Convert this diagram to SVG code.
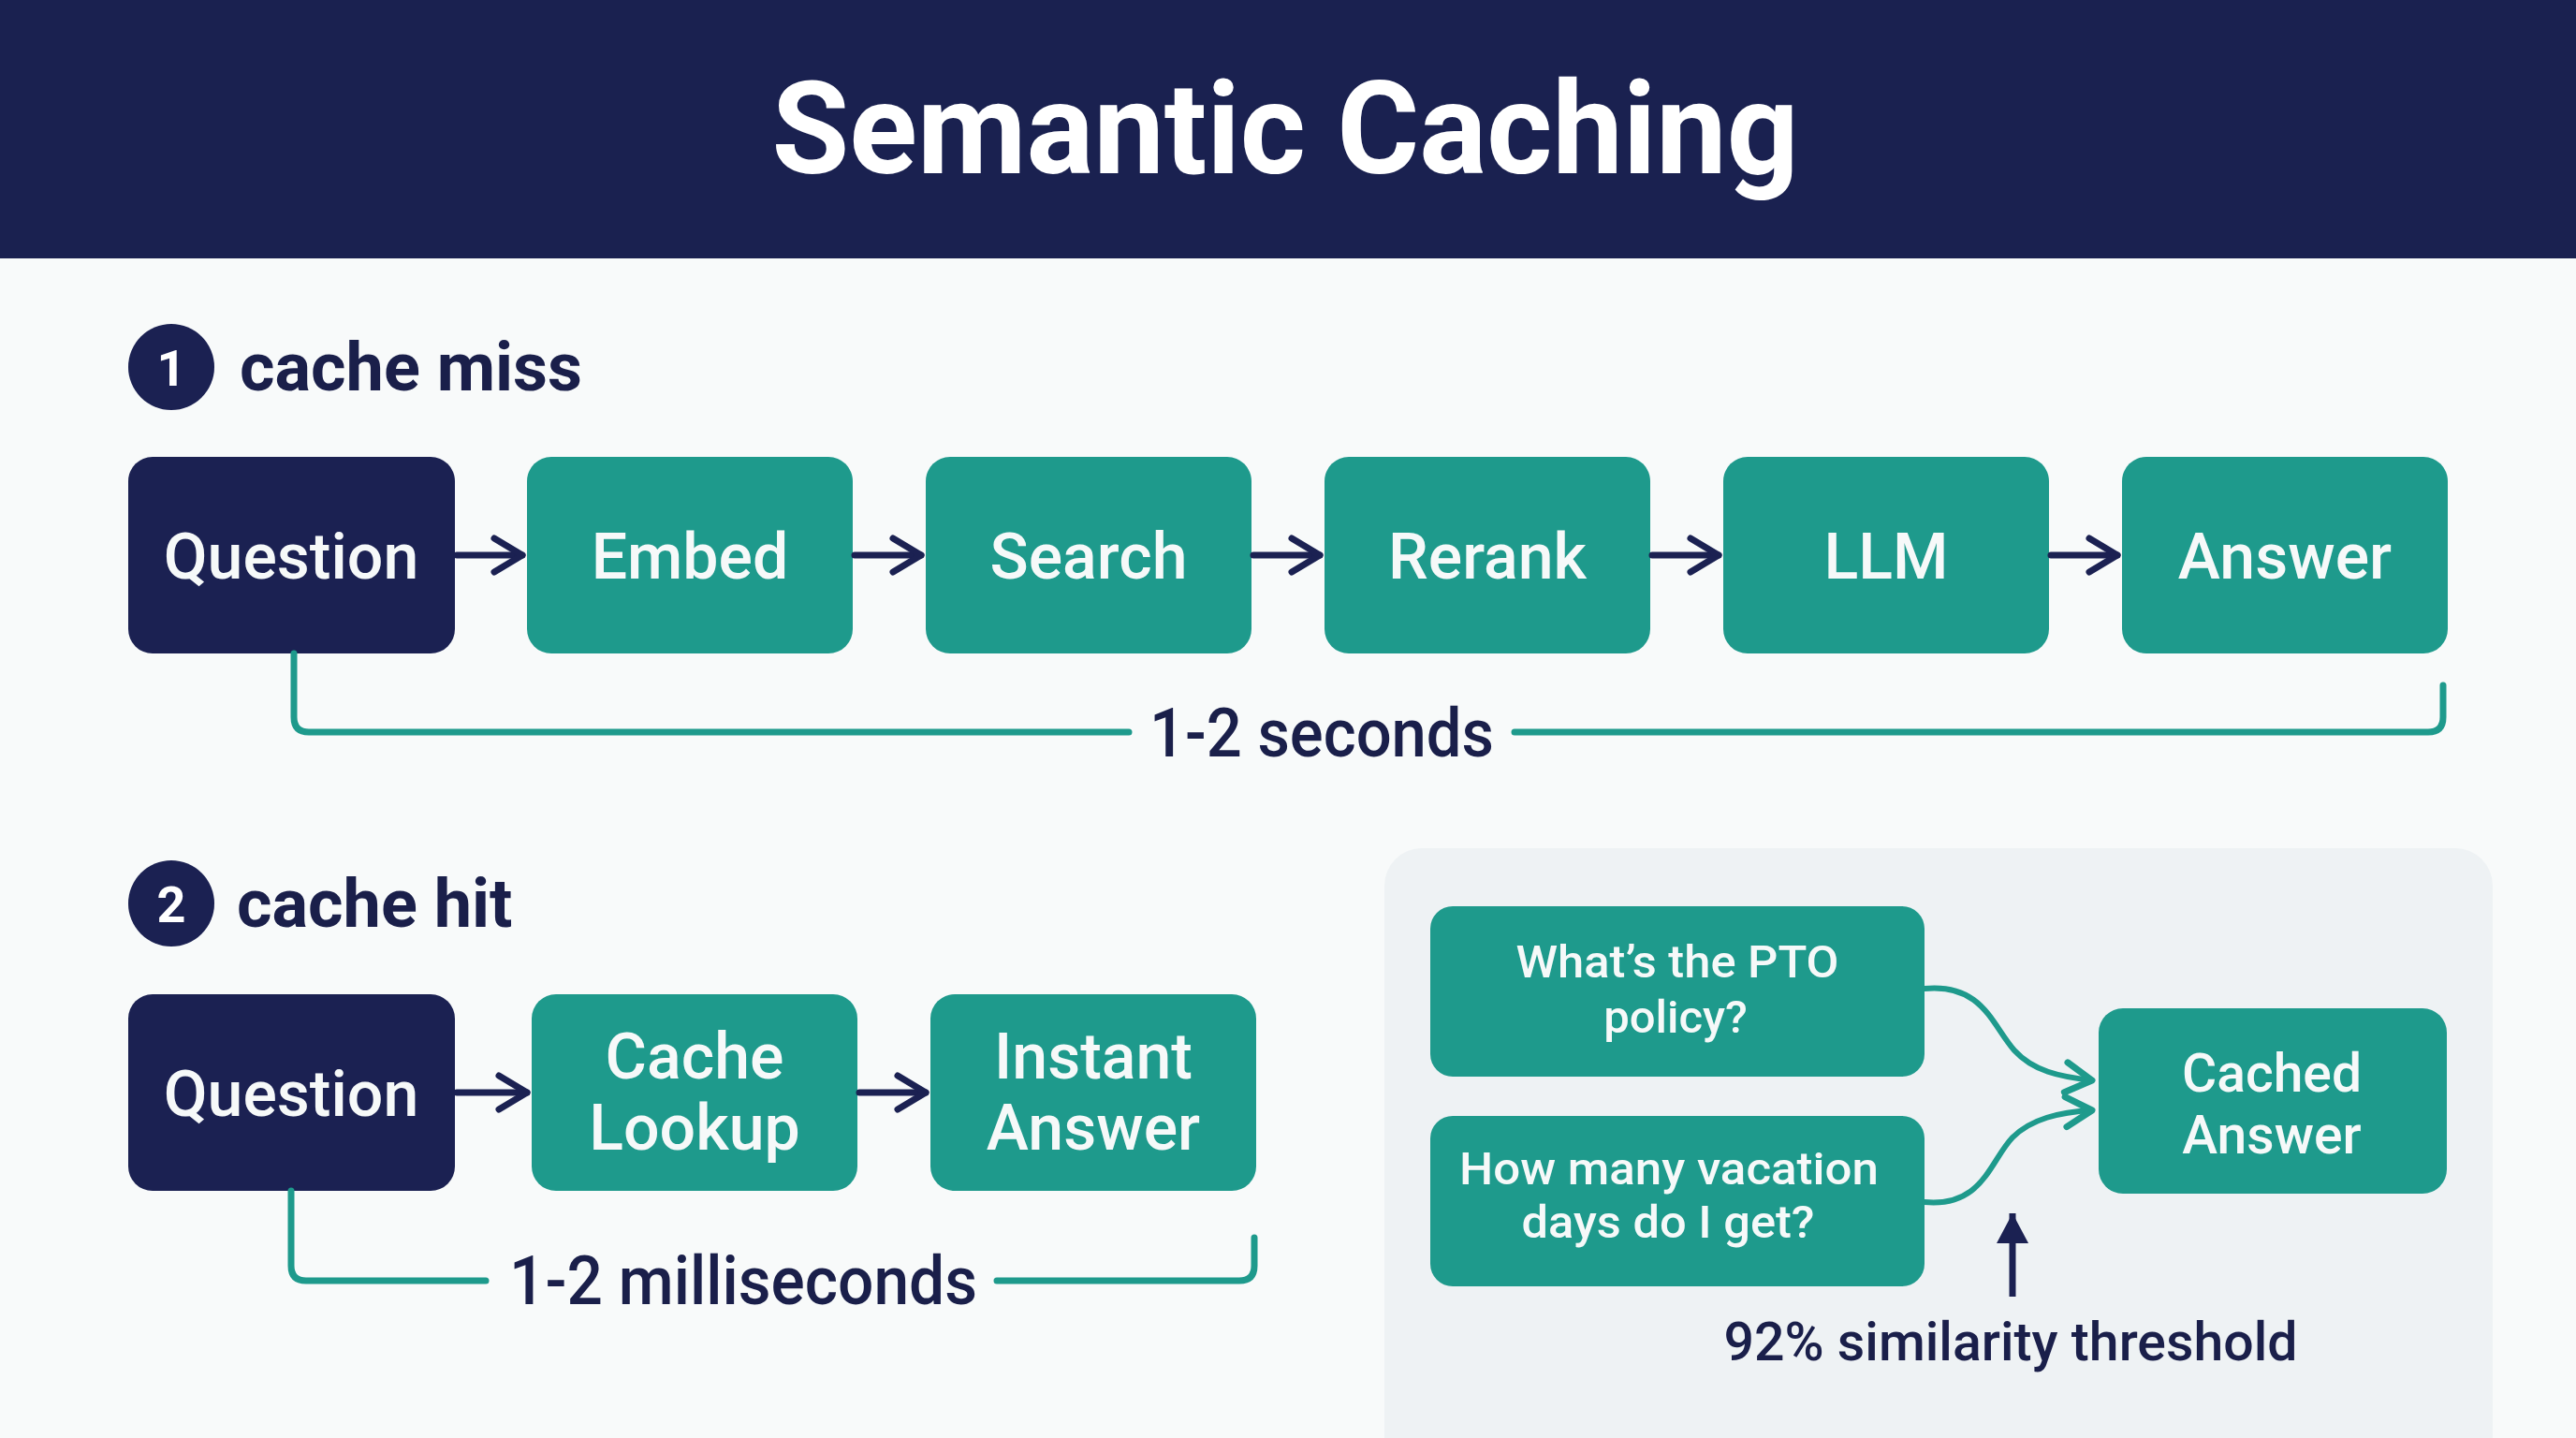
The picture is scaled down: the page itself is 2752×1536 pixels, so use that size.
<svg xmlns="http://www.w3.org/2000/svg" width="2752" height="1536" viewBox="0 0 2752 1536">
<defs>
<style>
.bg{fill:#f8fafa}
.hdr{fill:#1a2150}
.navy{fill:#1b2152}
.teal{fill:#1e9a8c}
.lbl{font-family:Roboto,"Noto Sans",sans-serif;font-weight:500;fill:#f6f9f9;text-anchor:middle}
.big{font-size:68px}
.sm{font-size:49px}
.md{font-size:57px}
.sec{font-family:Roboto,"Noto Sans",sans-serif;font-weight:700;font-size:72px;fill:#1a1f4a}
.num{font-family:Roboto,"Noto Sans",sans-serif;font-weight:700;font-size:54px;fill:#ffffff;text-anchor:middle}
.dur{font-family:Roboto,"Noto Sans",sans-serif;font-weight:500;fill:#1a1f4a;text-anchor:middle}
.ar{fill:none;stroke:#1b2152;stroke-width:7;stroke-linecap:round}
.br{fill:none;stroke:#1e9a8c;stroke-width:7;stroke-linecap:round;stroke-linejoin:round}
.cv{fill:none;stroke:#1e9a8c;stroke-width:6;stroke-linecap:round}
</style>
<marker id="chevN" markerUnits="userSpaceOnUse" viewBox="0 0 44 44" refX="38" refY="22" markerWidth="44" markerHeight="44" orient="auto">
<path d="M8,4 L38,22 L8,40" fill="none" stroke="#1b2152" stroke-width="7" stroke-linecap="round" stroke-linejoin="round"/>
</marker>
<marker id="chevT" markerUnits="userSpaceOnUse" viewBox="0 0 44 44" refX="38" refY="22" markerWidth="44" markerHeight="44" orient="auto">
<path d="M10,6 L38,22 L10,38" fill="none" stroke="#1e9a8c" stroke-width="7" stroke-linecap="round" stroke-linejoin="round"/>
</marker>
<marker id="triN" markerUnits="userSpaceOnUse" viewBox="0 0 40 40" refX="36" refY="20" markerWidth="40" markerHeight="40" orient="auto">
<path d="M4,3 L36,20 L4,37 Z" fill="#1b2152"/>
</marker>
</defs>

<rect class="bg" x="0" y="0" width="2752" height="1536"/>
<rect class="hdr" x="0" y="0" width="2752" height="276"/>
<text x="1373" y="185" font-family="Roboto,'Noto Sans',sans-serif" font-weight="700" font-size="138" fill="#ffffff" text-anchor="middle" textLength="1097" lengthAdjust="spacingAndGlyphs">Semantic Caching</text>

<g id="section1-title">
<circle class="navy" cx="183" cy="392" r="46"/>
<text class="num" x="183" y="412">1</text>
<text class="sec" x="256" y="417">cache miss</text>
</g>

<g id="section2-title">
<circle class="navy" cx="183" cy="965" r="46"/>
<text class="num" x="183" y="985">2</text>
<text class="sec" x="253" y="990">cache hit</text>
</g>

<g id="panel">
<rect x="1479" y="906" width="1184" height="700" rx="40" fill="#eef2f4"/>
</g>

<g id="n-question1"><rect class="navy" x="137" y="488" width="349" height="210" rx="26"/><text class="lbl big" x="311" y="618">Question</text></g>
<g id="n-embed"><rect class="teal" x="563" y="488" width="348" height="210" rx="26"/><text class="lbl big" x="737" y="618">Embed</text></g>
<g id="n-search"><rect class="teal" x="989" y="488" width="348" height="210" rx="26"/><text class="lbl big" x="1163" y="618">Search</text></g>
<g id="n-rerank"><rect class="teal" x="1415" y="488" width="348" height="210" rx="26"/><text class="lbl big" x="1589" y="618">Rerank</text></g>
<g id="n-llm"><rect class="teal" x="1841" y="488" width="348" height="210" rx="26"/><text class="lbl big" x="2015" y="618">LLM</text></g>
<g id="n-answer"><rect class="teal" x="2267" y="488" width="348" height="210" rx="26"/><text class="lbl big" x="2441" y="618">Answer</text></g>

<g id="n-question2"><rect class="navy" x="137" y="1062" width="349" height="210" rx="26"/><text class="lbl big" x="311" y="1192">Question</text></g>
<g id="n-cachelookup"><rect class="teal" x="568" y="1062" width="348" height="210" rx="26"/><text class="lbl big" x="742" y="1152">Cache</text><text class="lbl big" x="742" y="1228">Lookup</text></g>
<g id="n-instant"><rect class="teal" x="994" y="1062" width="348" height="210" rx="26"/><text class="lbl big" x="1168" y="1152">Instant</text><text class="lbl big" x="1168" y="1228">Answer</text></g>

<g id="n-pto"><rect class="teal" x="1528" y="968" width="528" height="182" rx="24"/><text class="lbl sm" x="1792" y="1044" textLength="345" lengthAdjust="spacingAndGlyphs">What’s the PTO</text><text class="lbl sm" x="1790" y="1103">policy?</text></g>
<g id="n-vacation"><rect class="teal" x="1528" y="1192" width="528" height="182" rx="24"/><text class="lbl sm" x="1783" y="1265" textLength="448" lengthAdjust="spacingAndGlyphs">How many vacation</text><text class="lbl sm" x="1782" y="1322" textLength="313" lengthAdjust="spacingAndGlyphs">days do I get?</text></g>
<g id="n-cached"><rect class="teal" x="2242" y="1077" width="372" height="198" rx="26"/><text class="lbl md" x="2427" y="1166">Cached</text><text class="lbl md" x="2427" y="1232">Answer</text></g>

<g id="connectors">
<line class="ar" x1="488" y1="593" x2="558" y2="593" marker-end="url(#chevN)"/>
<line class="ar" x1="913" y1="593" x2="984" y2="593" marker-end="url(#chevN)"/>
<line class="ar" x1="1339" y1="593" x2="1410" y2="593" marker-end="url(#chevN)"/>
<line class="ar" x1="1765" y1="593" x2="1836" y2="593" marker-end="url(#chevN)"/>
<line class="ar" x1="2191" y1="593" x2="2262" y2="593" marker-end="url(#chevN)"/>
<line class="ar" x1="488" y1="1167" x2="563" y2="1167" marker-end="url(#chevN)"/>
<line class="ar" x1="918" y1="1167" x2="989" y2="1167" marker-end="url(#chevN)"/>

<path class="br" d="M314,698 V766 Q314,782 330,782 H1206"/>
<path class="br" d="M1618,782 H2594 Q2610,782 2610,766 V732"/>
<path class="br" d="M311,1272 V1352 Q311,1368 327,1368 H519"/>
<path class="br" d="M1065,1368 H1324 Q1340,1368 1340,1352 V1322"/>

<path class="cv" d="M2056,1056 C2118,1050 2128,1095 2152,1122 C2172,1144 2200,1150 2235,1154" marker-end="url(#chevT)"/>
<path class="cv" d="M2056,1284 C2118,1290 2126,1240 2150,1215 C2170,1195 2200,1188 2235,1186" marker-end="url(#chevT)"/>

<line x1="2150" y1="1385" x2="2150" y2="1296" stroke="#1b2152" stroke-width="7" marker-end="url(#triN)"/>
</g>

<text class="dur" x="1412" y="808" font-size="72" textLength="368" lengthAdjust="spacingAndGlyphs">1-2 seconds</text>
<text class="dur" x="794" y="1393" font-size="72" textLength="500" lengthAdjust="spacingAndGlyphs">1-2 milliseconds</text>
<text class="dur" x="2148" y="1453" font-size="58" textLength="613" lengthAdjust="spacingAndGlyphs">92% similarity threshold</text>
</svg>
